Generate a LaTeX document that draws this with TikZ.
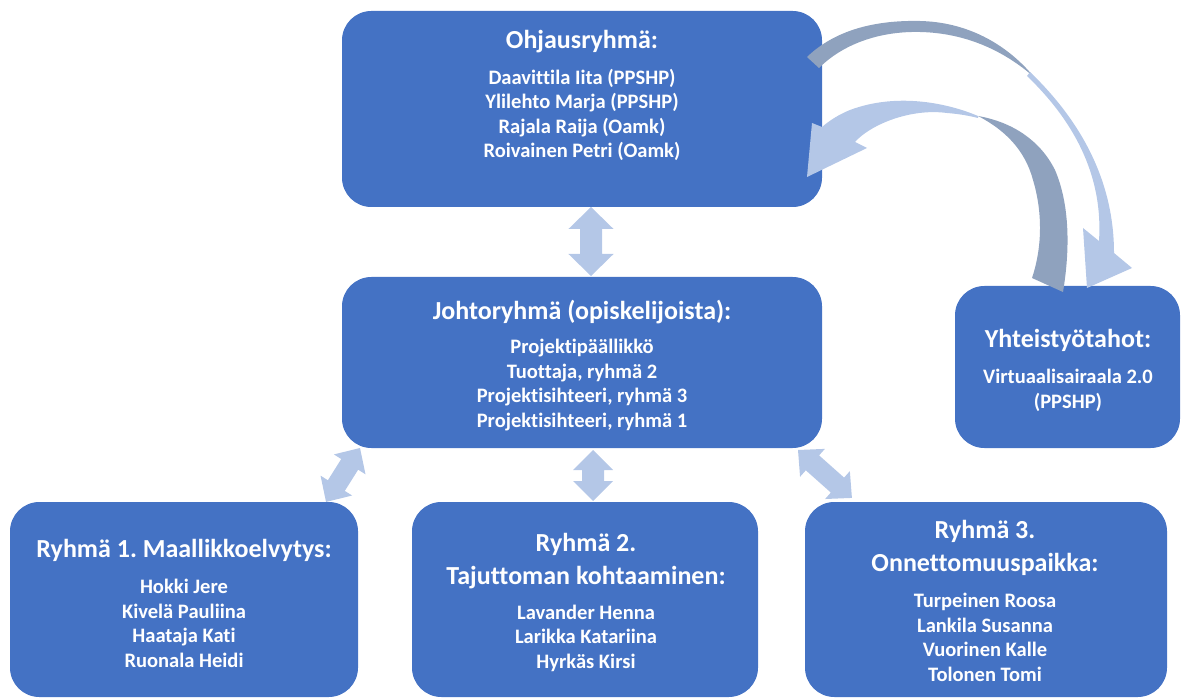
\documentclass[tikz,border=0pt]{standalone}
\usepackage{fontspec}
\setmainfont{Carlito}[Ligatures={NoCommon}]
\frenchspacing
\usetikzlibrary{calc}
\definecolor{boxblue}{HTML}{4472C4}
\definecolor{lightarr}{HTML}{B4C7E7}
\definecolor{darkarr}{HTML}{8FA2BE}
\newcommand{\bidir}[5]{%
  \path let \p1=(#1), \p2=(#2), \n1={atan2(\y2-\y1,\x2-\x1)}, \n2={veclen(\x2-\x1,\y2-\y1)} in
    \pgfextra{\pgfmathparse{\n1}\xdef\bdang{\pgfmathresult}%
              \pgfmathparse{\n2}\xdef\bdlen{\pgfmathresult}%
              \xdef\bdx{\x1}\xdef\bdy{\y1}};
  \fill[lightarr, shift={(\bdx,\bdy)}, rotate=\bdang]
    (0pt,0pt) -- (#3,#4) -- (#3,#5) -- (\bdlen pt-#3,#5) -- (\bdlen pt-#3,#4)
    -- (\bdlen pt,0pt) -- (\bdlen pt-#3,-#4) -- (\bdlen pt-#3,-#5) -- (#3,-#5) -- (#3,-#4) -- cycle;
}
\begin{document}
\begin{tikzpicture}[x=0.75pt,y=-0.75pt,
  box/.style={fill=boxblue, draw=none, rounded corners=22pt, inner sep=0pt},
  ttl/.style={text=white, font=\bfseries\fontsize{19.5}{24.4}\selectfont, inner sep=0pt, align=center},
  nm/.style={text=white, font=\bfseries\fontsize{15.4}{18.4}\selectfont, inner sep=0pt, align=center}]
\useasboundingbox (0,0) rectangle (1181,698);

% boxes
\node[box, minimum width=480*0.75pt, minimum height=196*0.75pt] (ohj) at (582,109) {};
\node[box, minimum width=480*0.75pt, minimum height=171*0.75pt] (joh) at (582,362.5) {};
\node[box, minimum width=225*0.75pt, minimum height=162*0.75pt] (yht) at (1067.5,367) {};
\node[box, minimum width=348*0.75pt, minimum height=195*0.75pt] (r1) at (184,599.5) {};
\node[box, minimum width=346*0.75pt, minimum height=195*0.75pt] (r2) at (585,599.5) {};
\node[box, minimum width=362*0.75pt, minimum height=195*0.75pt] (r3) at (986,599.5) {};

% texts
\node[ttl] (ohjT) at (582,42) {Ohjausryhmä:};
\node[nm] (ohjN) at (582,115) {Daavittila Iita (PPSHP)\\Ylilehto Marja (PPSHP)\\Rajala Raija (Oamk)\\Roivainen Petri (Oamk)};
\node[ttl] (johT) at (582,312) {Johtoryhmä (opiskelijoista):};
\node[nm] (johN) at (582,385) {Projektipäällikkö\\Tuottaja, ryhmä 2\\Projektisihteeri, ryhmä 3\\Projektisihteeri, ryhmä 1};
\node[ttl] (yhtT) at (1068,340) {Yhteistyötahot:};
\node[nm] (yhtN) at (1068,390.5) {Virtuaalisairaala 2.0\\(PPSHP)};
\node[ttl] (r1T) at (184,550) {Ryhmä 1. Maallikkoelvytys:};
\node[nm] (r1N) at (184,623.5) {Hokki Jere\\Kivelä Pauliina\\Haataja Kati\\Ruonala Heidi};
\node[ttl] (r2T) at (586,561) {Ryhmä 2.\\Tajuttoman kohtaaminen:};
\node[nm] (r2N) at (586,638) {Lavander Henna\\Larikka Katariina\\Hyrkäs Kirsi};
\node[ttl] (r3T) at (985,548) {Ryhmä 3.\\Onnettomuuspaikka:};
\node[nm] (r3N) at (985,637.5) {Turpeinen Roosa\\Lankila Susanna\\Vuorinen Kalle\\Tolonen Tomi};

% straight double arrows
\coordinate (a1s) at (591,207);  \coordinate (a1e) at (591,276);
\coordinate (a2s) at (593,450);  \coordinate (a2e) at (593,501);
\coordinate (a3s) at (360,448);  \coordinate (a3e) at (326,502);
\coordinate (a4s) at (798,450);  \coordinate (a4e) at (852,498);
\bidir{a1s}{a1e}{16.5pt}{16.9pt}{8.25pt}
\bidir{a2s}{a2e}{15pt}{15pt}{8.25pt}
\bidir{a3s}{a3e}{14.5pt}{14pt}{7.5pt}
\bidir{a4s}{a4e}{14.5pt}{14pt}{7.5pt}

% curved arrow: Ohjausryhmä -> Yhteistyötahot
\fill[darkarr] (807,57) .. controls (835,30) and (875,20) .. (920,21)
  .. controls (965,22) and (1005,42) .. (1034,77)
  .. controls (1003,50) and (965,33) .. (920,32)
  .. controls (878,31) and (842,45) .. (819,68) -- cycle;
\fill[lightarr] (1030,72) .. controls (1080,120) and (1114,180) .. (1114,253)
  -- (1132,268) -- (1087,288) -- (1083,228) -- (1099,241)
  .. controls (1103,180) and (1078,125) .. (1027,76) -- cycle;

% curved arrow: Yhteistyötahot -> Ohjausryhmä
\fill[darkarr] (1032,278) -- (1063,292)
  .. controls (1070,250) and (1070,205) .. (1055,170)
  .. controls (1040,140) and (1012,122) .. (978,116)
  .. controls (1005,130) and (1025,150) .. (1033,180)
  .. controls (1042,210) and (1043,245) .. (1032,278) -- cycle;
\fill[lightarr] (978,116) .. controls (945,102) and (895,93) .. (850,110)
  .. controls (840,114) and (830,120) .. (822,127)
  -- (812,123) -- (807,177) -- (867,148) -- (855,142)
  .. controls (870,125) and (910,108) .. (947,113)
  .. controls (960,114) and (970,116) .. (978,118) -- cycle;
\end{tikzpicture}
\end{document}
